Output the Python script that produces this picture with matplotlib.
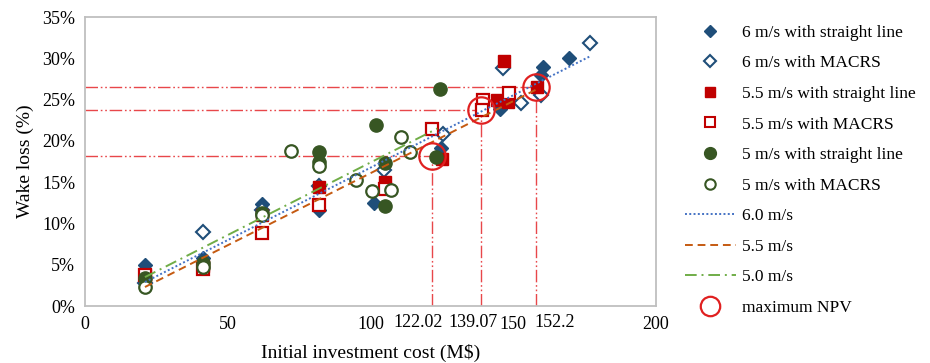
import matplotlib
matplotlib.use('Agg')
from matplotlib import pyplot as plt
from matplotlib.lines import Line2D
from matplotlib.transforms import blended_transform_factory

plt.rcParams['font.family'] = ['Liberation Serif', 'DejaVu Serif']

# 数据：初始投资 (M$) 与尾流损失 (%)
x_6_sl = [21, 41.5, 62, 82, 101.2, 124.6, 145.4, 159.6, 160.5, 169.4]
y_6_sl = [5.0, 5.8, 12.3, 11.6, 12.5, 19.2, 23.9, 28.0, 28.9, 30.0]
x_6_ma = [21, 41.5, 62, 82, 104.7, 125.5, 146.4, 152.6, 159.6, 177]
y_6_ma = [2.8, 9.0, 11.6, 14.5, 16.5, 20.8, 28.8, 24.6, 25.5, 31.9]
x_55_sl = [21, 41.5, 62, 82, 105, 125.2, 144.4, 148, 146.8, 158.2]
y_55_sl = [3.8, 4.9, 11.0, 14.4, 15.0, 17.8, 24.9, 24.7, 29.7, 26.5]
x_55_ma = [21, 41.5, 62, 82, 105, 121.6, 139.5, 139.0, 148.5]
y_55_ma = [3.8, 4.5, 8.9, 12.2, 14.2, 21.5, 25.0, 23.7, 25.8]
x_5_sl = [21, 41.5, 62, 82, 82, 101.8, 105, 105, 122.8, 124.3]
y_5_sl = [3.4, 5.2, 11.3, 18.6, 17.5, 21.9, 17.3, 12.1, 18.1, 26.3]
x_5_ma = [21, 41.5, 62, 72, 82, 95, 100.6, 107.3, 110.8, 114]
y_5_ma = [2.3, 4.7, 11.0, 18.8, 16.9, 15.3, 13.9, 14.1, 20.5, 18.7]

# 趋势线端点
trend_6_x, trend_6_y = [21, 177.2], [2.9, 30.3]
trend_55_x, trend_55_y = [21, 158.5], [2.3, 26.3]
trend_5_x, trend_5_y = [21, 123.4], [3.5, 21.5]

# 最大NPV点
npv_x = [121.6, 138.6, 158.0]
npv_y = [18.2, 23.7, 26.5]
npv_labels = ['122.02', '139.07', '152.2']

blue, red, green = '#1F4E79', '#C00000', '#375623'
line_red = '#E8474A'

fig = plt.figure(figsize=(9.3, 3.63), dpi=100)
ax = fig.add_axes([0.0914, 0.157, 0.614, 0.796])

# 参考线
dash = (0, (9, 2, 1.2, 2, 1.2, 2))
for xv, yv in zip(npv_x, npv_y):
    ax.plot([0, xv], [yv, yv], color=line_red, lw=1.0, linestyle=dash, zorder=1)
    ax.plot([xv, xv], [0, yv], color=line_red, lw=1.0, linestyle=dash, zorder=1)

ax.plot(x_6_sl, y_6_sl, 'D', color=blue, ms=7.5, zorder=3)
ax.plot(x_6_ma, y_6_ma, 'D', mfc='white', mec=blue, mew=1.5, ms=7, zorder=3)
ax.plot(x_55_sl, y_55_sl, 's', color=red, ms=8.5, zorder=3)
ax.plot(x_55_ma, y_55_ma, 's', mfc='white', mec=red, mew=1.6, ms=8, zorder=3)
ax.plot(x_5_sl, y_5_sl, 'o', color=green, ms=9.5, zorder=3)
ax.plot(x_5_ma, y_5_ma, 'o', mfc='white', mec=green, mew=1.6, ms=9, zorder=3)

ax.plot(trend_6_x, trend_6_y, color='#4472C4', lw=1.4, linestyle=(0, (1, 1.2)), zorder=4)
ax.plot(trend_55_x, trend_55_y, color='#C55A11', lw=1.4, linestyle=(0, (4, 2.5)), zorder=4)
ax.plot(trend_5_x, trend_5_y, color='#70AD47', lw=1.4, linestyle=(0, (6, 2.5, 1, 2.5)), zorder=4)

ax.plot(npv_x, npv_y, 'o', mfc='none', mec='#E02020', mew=1.6, ms=19, zorder=5)

ax.set_xlim(0, 200)
ax.set_ylim(0, 35)
ax.set_xticks([0, 50, 100, 150, 200])
ax.set_xticklabels(['0', '50', '100', '150', '200'])
ax.set_yticks(range(0, 36, 5))
ax.set_yticklabels([f'{v}%' for v in range(0, 36, 5)])
ax.tick_params(length=0, labelsize=13, pad=7)
for s in ax.spines.values():
    s.set_color('#BFBFBF')
    s.set_linewidth(1.3)

# NPV 标签
trans = blended_transform_factory(ax.transData, ax.transAxes)
label_x = [116.5, 135.8, 164.6]
for lx, lab in zip(label_x, npv_labels):
    ax.text(lx, -0.028, lab, transform=trans, ha='center', va='top', fontsize=13)

ax.set_xlabel('Initial investment cost (M$)', fontsize=14, labelpad=8)
ax.set_ylabel('Wake loss (%)', fontsize=14, labelpad=6)

handles = [
    Line2D([], [], marker='D', color=blue, ls='none', ms=6.5),
    Line2D([], [], marker='D', mfc='white', mec=blue, mew=1.5, ls='none', ms=6),
    Line2D([], [], marker='s', color=red, ls='none', ms=7.5),
    Line2D([], [], marker='s', mfc='white', mec=red, mew=1.5, ls='none', ms=7),
    Line2D([], [], marker='o', color=green, ls='none', ms=8.5),
    Line2D([], [], marker='o', mfc='white', mec=green, mew=1.5, ls='none', ms=7.5),
    Line2D([], [], color='#4472C4', lw=1.4, ls=(0, (1, 1.2))),
    Line2D([], [], color='#C55A11', lw=1.4, ls=(0, (4, 2.5))),
    Line2D([], [], color='#70AD47', lw=1.4, ls=(0, (6, 2.5, 1, 2.5))),
    Line2D([], [], marker='o', mfc='none', mec='#E02020', mew=1.6, ls='none', ms=14),
]
labels = ['6 m/s with straight line', '6 m/s with MACRS', '5.5 m/s with straight line',
          '5.5 m/s with MACRS', '5 m/s with straight line', '5 m/s with MACRS',
          '6.0 m/s', '5.5 m/s', '5.0 m/s', 'maximum NPV']
fig.legend(handles, labels, loc='upper left', bbox_to_anchor=(0.72, 0.975),
           frameon=False, fontsize=12.5, handlelength=2.9, handletextpad=0.35,
           labelspacing=0.83)

fig.savefig('out.png', dpi=100)
